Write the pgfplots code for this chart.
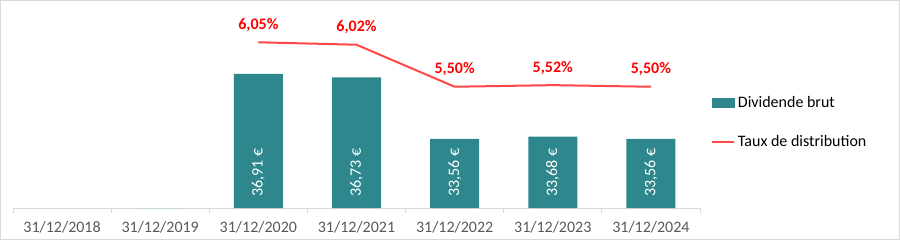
\documentclass[border=0pt]{standalone}
\usepackage{pgfplots}
\pgfplotsset{compat=1.18}
\usepackage{fontspec}
\setmainfont{Carlito}
\definecolor{barc}{HTML}{2E878C}
\definecolor{linec}{HTML}{FF4747}
\definecolor{labc}{HTML}{FF0000}
\definecolor{tickc}{HTML}{595959}
\definecolor{axc}{HTML}{D9D9D9}
\begin{document}
\begin{tikzpicture}
\useasboundingbox (0,0) rectangle (675pt,180pt);
\pgfplotsset{
 base/.style={
  at={(9.75pt,24pt)}, anchor=south west,
  scale only axis, width=515.25pt, height=145.5pt,
  xmin=-0.5, xmax=6.5, clip=false,
 }
}
\begin{axis}[base, ymin=30, ymax=40,
  axis y line=none, axis x line*=bottom,
  x axis line style={draw=axc, line width=0.75pt, -},
  xtick={0,1,2,3,4,5,6},
  xticklabels={31/12/2018,31/12/2019,31/12/2020,31/12/2021,31/12/2022,31/12/2023,31/12/2024},
  major tick length=0pt,
  major tick style={draw=none},
  minor xtick={-0.5,0.5,1.5,2.5,3.5,4.5,5.5,6.5},
  minor tick length=3.75pt,
  xtick align=outside,
  minor tick style={axc, line width=0.75pt},
  xticklabel style={font=\fontsize{12}{14}\selectfont, text=tickc, yshift=-6.5pt},
  ytick=\empty,
]
\addplot[ybar, bar width=36.75pt, bar shift=0pt, fill=barc, draw=none]
  coordinates {(2,36.91) (3,36.73) (4,33.56) (5,33.68) (6,33.56)};
\addplot[ybar, bar width=36.75pt, bar shift=0pt, fill=none, draw=barc!35, line width=0.75pt]
  coordinates {(1,30)};
\addplot[draw=none, nodes near coords, point meta=explicit symbolic,
  every node near coord/.append style={rotate=90, anchor=west, inner sep=0pt, text=white, font=\fontsize{12}{14}\selectfont}]
  coordinates {(2,30.57)[36,91 €] (3,30.57)[36,73 €] (4,30.57)[33,56 €] (5,30.57)[33,68 €] (6,30.57)[33,56 €]};
\end{axis}
\begin{axis}[base, ymin=4, ymax=6.4, hide axis,
  legend style={at={(1.016,0.441)}, anchor=west, draw=none, fill=none, inner sep=0pt,
    row sep=16pt, font=\fontsize{12}{14}\selectfont},
  legend cell align=left,
]
\addlegendimage{legend image code/.code={\fill[barc] (0pt,-3.5pt) rectangle (16.5pt,3.5pt);}}
\addlegendentry{Dividende brut}
\addplot[linec, line width=1.5pt, nodes near coords, point meta=explicit symbolic,
  legend image code/.code={\draw[linec, line width=1.5pt] (0pt,0pt) -- (16.5pt,0pt);},
  every node near coord/.append style={text=labc, font=\fontsize{12}{14}\selectfont\bfseries, anchor=south, yshift=4pt}]
  coordinates {(2,6.05)[6,05\%] (3,6.02)[6,02\%] (4,5.50)[5,50\%] (5,5.52)[5,52\%] (6,5.50)[5,50\%]};
\addlegendentry{Taux de distribution}
\end{axis}
\draw[axc, line width=0.75pt] (0.375pt,0.375pt) rectangle (674.625pt,179.625pt);
\end{tikzpicture}
\end{document}
